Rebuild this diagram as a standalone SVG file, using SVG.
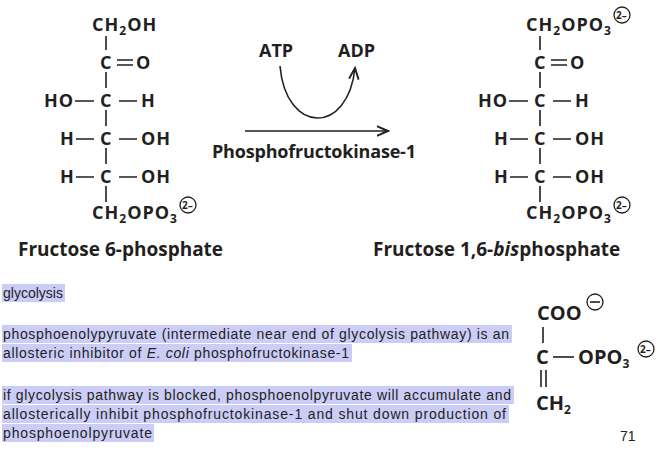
<svg xmlns="http://www.w3.org/2000/svg" width="669" height="454" viewBox="0 0 669 454">
<style>
.c{font-family:"Open Sans","Liberation Sans",sans-serif;font-weight:bold;font-size:18px;fill:#231f20;letter-spacing:1px}
.s{font-size:12px}
.q{font-family:"Open Sans","Liberation Sans",sans-serif;font-weight:bold;font-size:10px;fill:#231f20}
.lbl{font-family:"Open Sans","Liberation Sans",sans-serif;font-weight:bold;font-size:19px;fill:#231f20}
.b{stroke:#231f20;stroke-width:1.6;fill:none}
.t{font-family:"Liberation Sans",sans-serif;font-size:14px;fill:#222}
.hl{fill:#cccdf7}
.ch{fill:none;stroke:#231f20;stroke-width:1.3}
.p{font-size:20px;letter-spacing:0}
</style>
<defs><marker id="ah" markerWidth="8" markerHeight="8" refX="7" refY="4" orient="auto"><path d="M0,1 L7,4 L0,7" fill="none" stroke="#231f20" stroke-width="1.2"/></marker></defs>
<g id="f6p">
<text class="c" x="92" y="31">CH<tspan class="s" dy="4">2</tspan><tspan dy="-4">OH</tspan></text>
<path class="b" d="M106 36V50M106 72V88M106 110V126M106 148V164M106 186V202"/>
<text class="c" x="100" y="69">C</text><path class="b" d="M117 60H133M117 65H133"/><text class="c" x="136" y="69">O</text>
<text class="c" x="44" y="107">HO</text><path class="b" d="M75 101H94M119 101H137"/><text class="c" x="100" y="107">C</text><text class="c" x="141" y="107">H</text>
<text class="c" x="60" y="145">H</text><path class="b" d="M76 139H94M119 139H137"/><text class="c" x="100" y="145">C</text><text class="c" x="141" y="145">OH</text>
<text class="c" x="60" y="183">H</text><path class="b" d="M76 177H94M119 177H137"/><text class="c" x="100" y="183">C</text><text class="c" x="141" y="183">OH</text>
<text class="c" x="92" y="219">CH<tspan class="s" dy="4">2</tspan><tspan dy="-4">OPO</tspan><tspan class="s" dy="4">3</tspan></text>
<circle class="ch" cx="188" cy="205" r="8"/><text class="q" x="182" y="209">2–</text>
<text class="lbl" x="18" y="256">Fructose 6-phosphate</text>
</g>
<g id="f16bp">
<text class="c" x="526" y="31">CH<tspan class="s" dy="4">2</tspan><tspan dy="-4">OPO</tspan><tspan class="s" dy="4">3</tspan></text>
<circle class="ch" cx="622" cy="15" r="8"/><text class="q" x="616" y="19">2–</text>
<path class="b" d="M540 36V50M540 72V88M540 110V126M540 148V164M540 186V202"/>
<text class="c" x="534" y="69">C</text><path class="b" d="M551 60H567M551 65H567"/><text class="c" x="570" y="69">O</text>
<text class="c" x="478" y="107">HO</text><path class="b" d="M509 101H528M553 101H571"/><text class="c" x="534" y="107">C</text><text class="c" x="575" y="107">H</text>
<text class="c" x="494" y="145">H</text><path class="b" d="M510 139H528M553 139H571"/><text class="c" x="534" y="145">C</text><text class="c" x="575" y="145">OH</text>
<text class="c" x="494" y="183">H</text><path class="b" d="M510 177H528M553 177H571"/><text class="c" x="534" y="183">C</text><text class="c" x="575" y="183">OH</text>
<text class="c" x="526" y="219">CH<tspan class="s" dy="4">2</tspan><tspan dy="-4">OPO</tspan><tspan class="s" dy="4">3</tspan></text>
<circle class="ch" cx="622" cy="205" r="8"/><text class="q" x="616" y="209">2–</text>
<text class="lbl" x="373" y="256">Fructose 1,6-<tspan font-style="italic">bis</tspan>phosphate</text>
</g>
<g id="connectors">
<path class="b" d="M245 131H388" marker-end="url(#ah)"/>
<path class="b" stroke-width="1.3" d="M280 66C286 135 348 135 355 68" marker-end="url(#ah)"/>
</g>
<g id="enzyme">
<text class="c" x="259" y="57" style="letter-spacing:0">ATP</text><text class="c" x="338" y="57" style="letter-spacing:0">ADP</text>
<text class="c" x="212" y="158" textLength="204" style="letter-spacing:0">Phosphofructokinase-1</text>
</g>
<g id="pep">
<text class="c p" x="537" y="320">COO</text>
<circle class="ch" cx="595" cy="302" r="8"/><path class="b" stroke-width="1.3" d="M590 302H600"/>
<path class="b" d="M543 327V343"/>
<text class="c p" x="536" y="364">C</text><path class="b" d="M553 357H574"/>
<text class="c p" x="578" y="364">OPO<tspan class="s" dy="4">3</tspan></text>
<circle class="ch" cx="646" cy="349" r="8"/><text class="q" x="640" y="353">2–</text>
<path class="b" d="M541 370V387M546 370V387"/>
<text class="c p" x="536" y="410">CH<tspan class="s" dy="4">2</tspan></text>
</g>
<g id="notes">
<rect class="hl" x="2" y="284" width="63" height="18"/>
<rect class="hl" x="2" y="325" width="510" height="18"/>
<rect class="hl" x="2" y="344" width="350" height="18"/>
<rect class="hl" x="2" y="386" width="512" height="18"/>
<rect class="hl" x="2" y="405" width="507" height="18"/>
<rect class="hl" x="2" y="424" width="152" height="18"/>
<text class="t" x="3" y="298">glycolysis</text>
<text class="t" x="3" y="339" textLength="506">phosphoenolypyruvate (intermediate near end of glycolysis pathway) is an</text>
<text class="t" x="3" y="358" textLength="346">allosteric inhibitor of <tspan font-style="italic">E. coli</tspan> phosphofructokinase-1</text>
<text class="t" x="3" y="400" textLength="508">if glycolysis pathway is blocked, phosphoenolpyruvate will accumulate and</text>
<text class="t" x="3" y="419" textLength="503">allosterically inhibit phosphofructokinase-1 and shut down production of</text>
<text class="t" x="3" y="438" textLength="149">phosphoenolpyruvate</text>
<text class="t" x="620" y="441" font-size="10" fill="#888">71</text>
</g>
</svg>
